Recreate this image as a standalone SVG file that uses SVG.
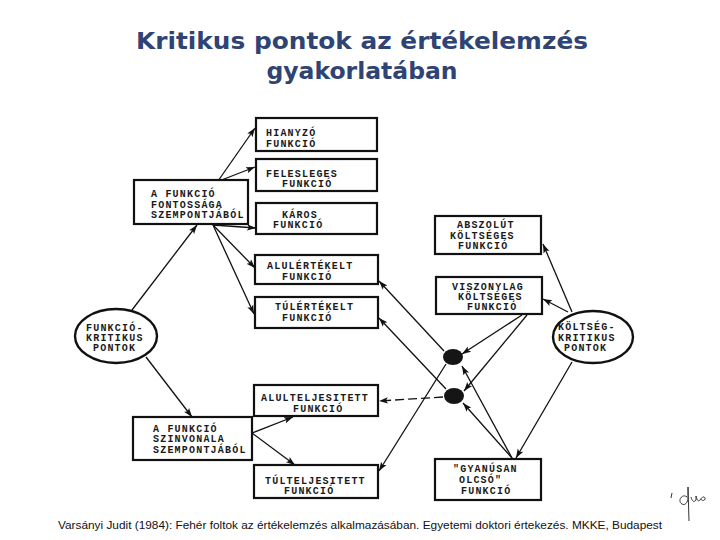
<svg xmlns="http://www.w3.org/2000/svg" width="720" height="540" viewBox="0 0 720 540">
<defs>
<marker id="ah" markerWidth="10" markerHeight="8" refX="9" refY="4" orient="auto" markerUnits="userSpaceOnUse">
<path d="M0,0.8 L9,4 L0,7.2 L2,4 Z" fill="#111"/>
</marker>
<style>
.title{font-family:"DejaVu Sans",Verdana,sans-serif;font-weight:bold;font-size:23.5px;fill:#2F4474;text-anchor:middle}
.box{fill:#fff;stroke:#111;stroke-width:2.2}
.ell{fill:#fff;stroke:#111;stroke-width:2.4}
.t{font-family:"Liberation Mono","DejaVu Sans Mono",monospace;font-weight:bold;font-size:10px;letter-spacing:1.2px;fill:#1a1a1a}
.c{stroke:#111;stroke-width:1.3;fill:none;marker-end:url(#ah)}
.dash{stroke-dasharray:9 4}
.dot{fill:#151515}
.foot{font-family:"Liberation Sans",Arial,sans-serif;font-size:11px;fill:#111}
</style>
</defs>
<rect width="720" height="540" fill="#fff"/>
<g id="title">
<text class="title" x="362" y="49" textLength="452" lengthAdjust="spacingAndGlyphs">Kritikus pontok az értékelemzés</text>
<text class="title" x="362" y="79">gyakorlatában</text>
</g>
<g id="connectors">
<line class="c" x1="218" y1="181" x2="255" y2="128"/>
<line class="c" x1="219" y1="181" x2="255" y2="167"/>
<line class="c" x1="213" y1="225" x2="256" y2="228"/>
<line class="c" x1="213" y1="225" x2="255" y2="268"/>
<line class="c" x1="213" y1="225" x2="254" y2="314"/>
<line class="c" x1="132" y1="310" x2="197" y2="225"/>
<line class="c" x1="146" y1="357" x2="192" y2="417"/>
<line class="c" x1="252" y1="433" x2="293" y2="417"/>
<line class="c" x1="252" y1="433" x2="295" y2="465"/>
<line class="c" x1="572" y1="312" x2="543" y2="244"/>
<line class="c" x1="568" y1="312" x2="543" y2="299"/>
<line class="c" x1="572" y1="362" x2="516" y2="458"/>
<line class="c" x1="522" y1="315" x2="462" y2="354"/>
<line class="c" x1="527" y1="315" x2="464" y2="391"/>
<line class="c" x1="512" y1="458" x2="462" y2="366"/>
<line class="c" x1="512" y1="458" x2="463" y2="403"/>
<line class="c" x1="446" y1="364" x2="379" y2="471"/>
<line class="c dash" x1="443" y1="397" x2="379" y2="401"/>
<line class="c" x1="444" y1="351" x2="379" y2="281"/>
<line class="c" x1="446" y1="389" x2="379" y2="318"/>
</g>
<g id="hianyzo"><rect class="box" x="256" y="118" width="121" height="33"/>
<text class="t" x="266" y="136">HIANYZÓ</text><text class="t" x="266" y="147">FUNKCIÓ</text></g>
<g id="felesleges"><rect class="box" x="256" y="159" width="121" height="32"/>
<text class="t" x="266" y="177">FELESLEGES</text><text class="t" x="282" y="187">FUNKCIÓ</text></g>
<g id="karos"><rect class="box" x="256" y="203" width="121" height="31"/>
<text class="t" x="282" y="218">KÁROS</text><text class="t" x="273" y="228">FUNKCIÓ</text></g>
<g id="alulertekelt"><rect class="box" x="255" y="255" width="123" height="29"/>
<text class="t" x="267" y="269">ALULÉRTÉKELT</text><text class="t" x="282" y="280">FUNKCIÓ</text></g>
<g id="tulertekelt"><rect class="box" x="255" y="297" width="123" height="31"/>
<text class="t" x="275" y="310">TÚLÉRTÉKELT</text><text class="t" x="282" y="321">FUNKCIÓ</text></g>
<g id="alulteljesitett"><rect class="box" x="254" y="385" width="124" height="31"/>
<text class="t" x="261" y="401">ALULTELJESITETT</text><text class="t" x="293" y="412">FUNKCIÓ</text></g>
<g id="tulteljesitett"><rect class="box" x="254" y="465" width="124" height="33"/>
<text class="t" x="265" y="484">TÚLTELJESITETT</text><text class="t" x="284" y="494">FUNKCIÓ</text></g>
<g id="fontossaga"><rect class="box" x="134" y="180" width="114" height="44"/>
<text class="t" x="151" y="197">A FUNKCIÓ</text><text class="t" x="151" y="208">FONTOSSÁGA</text><text class="t" x="151" y="218">SZEMPONTJÁBÓL</text></g>
<g id="szinvonala"><rect class="box" x="133" y="417" width="119" height="43"/>
<text class="t" x="153" y="432">A FUNKCIÓ</text><text class="t" x="153" y="442">SZINVONALA</text><text class="t" x="153" y="453">SZEMPONTJÁBÓL</text></g>
<g id="funkcio-kritikus"><ellipse class="ell" cx="116" cy="336" rx="41" ry="27"/>
<text class="t" x="86" y="331">FUNKCIÓ-</text><text class="t" x="86" y="341">KRITIKUS</text><text class="t" x="93" y="351">PONTOK</text></g>
<g id="koltseg-kritikus"><ellipse class="ell" cx="593" cy="337" rx="40" ry="26"/>
<text class="t" x="558" y="330">KÖLTSÉG-</text><text class="t" x="558" y="341">KRITIKUS</text><text class="t" x="564" y="351">PONTOK</text></g>
<g id="abszolut"><rect class="box" x="435" y="216" width="106" height="38"/>
<text class="t" x="457" y="228">ABSZOLÚT</text><text class="t" x="450" y="239">KÖLTSÉGES</text><text class="t" x="458" y="249">FUNKCIÓ</text></g>
<g id="viszonylag"><rect class="box" x="436" y="277" width="106" height="37"/>
<text class="t" x="452" y="290">VISZONYLAG</text><text class="t" x="458" y="300">KÖLTSÉGES</text><text class="t" x="467" y="310">FUNKCIÓ</text></g>
<g id="gyanusan"><rect class="box" x="435" y="459" width="106" height="41"/>
<text class="t" x="453" y="472">"GYANÚSAN</text><text class="t" x="459" y="483">OLCSÓ"</text><text class="t" x="461" y="494">FUNKCIÓ</text></g>
<g id="dot1"><ellipse class="dot" cx="453" cy="357" rx="10" ry="8"/></g>
<g id="dot2"><ellipse class="dot" cx="454" cy="396" rx="10" ry="8"/></g>
<g id="footer">
<text class="foot" x="58" y="529" textLength="604" lengthAdjust="spacingAndGlyphs">Varsányi Judit (1984): Fehér foltok az értékelemzés alkalmazásában. Egyetemi doktori értekezés. MKKE, Budapest</text>
</g>
<g id="mark" fill="none" stroke="#333" stroke-width="1">
<path d="M672,493 l-1,5 M687,497 c-5,-4 -10,4 -5,7 c3,2 6,-2 6,-6 l0,-11 l1,34 M691,497 c1,4 3,6 5,3 l0,-4 c1,4 2,6 4,4 c2,-3 4,-4 5,-2 c1,2 -3,4 -4,1"/>
</g>
</svg>
